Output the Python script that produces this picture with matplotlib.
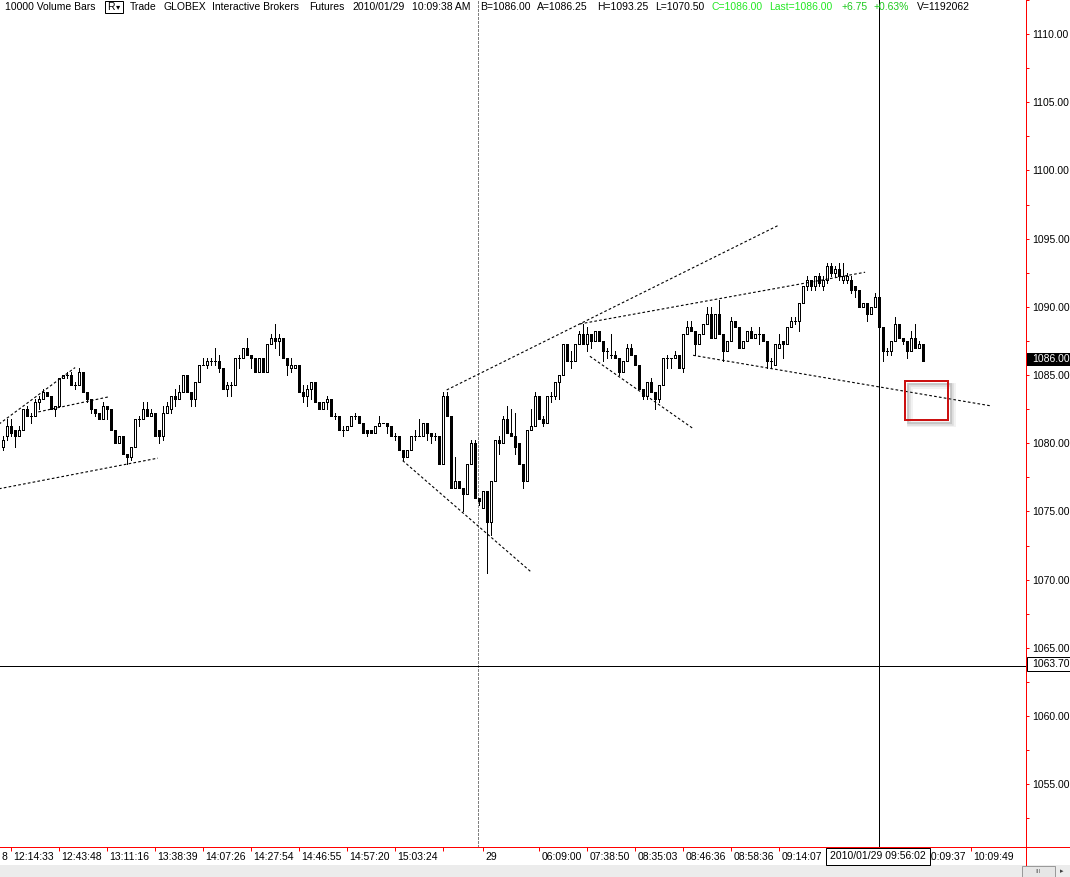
import matplotlib
matplotlib.use("Agg")
import matplotlib.pyplot as plt
import matplotlib.transforms as mtransforms
from matplotlib.patches import Rectangle
from matplotlib.lines import Line2D
import numpy as np

plt.rcParams['font.family'] = ['Liberation Sans', 'DejaVu Sans']

# ---------------- data (ES futures, 10000 volume bars) ----------------
opens = [1079.75, 1080.5, 1081.25, 1081.0, 1080.5, 1081.0, 1082.5, 1082.0, 1082.0, 1083.0,
         1083.25, 1083.75, 1083.5, 1082.5, 1082.75, 1084.75, 1085.0, 1085.0, 1084.25, 1084.25,
         1085.25, 1083.75, 1083.25, 1082.5, 1082.25, 1081.75, 1082.75, 1082.5, 1081.0, 1080.0,
         1080.5, 1079.25, 1079.0, 1079.75, 1081.75, 1081.75, 1082.5, 1082.0, 1082.25, 1081.0,
         1080.5, 1082.25, 1082.5, 1083.5, 1083.25, 1083.75, 1085.0, 1083.75, 1083.25, 1084.5,
         1085.75, 1085.75, 1086.0, 1086.0, 1086.0, 1085.5, 1084.0, 1084.25, 1084.25, 1086.25,
         1086.25, 1087.0, 1086.5, 1086.25, 1085.25, 1086.25, 1085.25, 1087.25, 1087.75, 1087.5,
         1087.75, 1086.25, 1085.5, 1085.5, 1085.75, 1083.75, 1083.5, 1084.0, 1084.5, 1083.0,
         1082.5, 1083.0, 1083.25, 1082.0, 1082.0, 1081.0, 1081.0, 1081.25, 1082.0, 1082.0,
         1081.5, 1081.0, 1081.0, 1080.75, 1081.25, 1081.5, 1081.5, 1081.25, 1080.5, 1080.5,
         1079.5, 1079.0, 1079.5, 1080.5, 1080.5, 1080.5, 1081.5, 1080.75, 1080.5, 1080.5,
         1078.5, 1083.5, 1082.0, 1076.75, 1077.25, 1076.75, 1076.25, 1078.5, 1080.0, 1076.0,
         1075.25, 1076.5, 1074.25, 1077.25, 1080.25, 1080.0, 1081.75, 1080.75, 1080.5, 1080.0,
         1078.5, 1077.25, 1081.0, 1081.25, 1083.5, 1081.75, 1081.5, 1083.5, 1083.5, 1084.5,
         1085.0, 1087.25, 1086.0, 1086.0, 1087.25, 1088.0, 1087.25, 1088.0, 1087.5, 1088.25,
         1087.5, 1086.75, 1086.5, 1086.5, 1086.25, 1085.25, 1086.0, 1087.0, 1086.5, 1085.75,
         1084.0, 1083.5, 1084.5, 1083.75, 1083.25, 1084.25, 1086.25, 1086.25, 1086.25, 1086.5,
         1085.5, 1088.0, 1088.5, 1088.25, 1087.25, 1088.0, 1088.75, 1089.5, 1087.75, 1089.5,
         1088.0, 1086.75, 1087.5, 1089.0, 1088.5, 1087.0, 1087.5, 1088.25, 1087.75, 1088.0,
         1088.0, 1087.5, 1086.0, 1085.75, 1087.0, 1087.5, 1087.25, 1088.5, 1089.0, 1089.0,
         1090.25, 1091.5, 1092.0, 1091.5, 1092.25, 1091.5, 1092.0, 1093.0, 1092.5, 1092.75,
         1092.0, 1092.0, 1092.0, 1091.5, 1091.25, 1090.0, 1090.25, 1089.5, 1090.0, 1090.75,
         1088.5, 1086.75, 1086.75, 1087.5, 1088.75, 1087.75, 1087.5, 1086.75, 1087.75, 1087.0,
         1087.25]
highs = [1080.5, 1081.75, 1081.75, 1081.0, 1081.25, 1082.5, 1082.75, 1082.25, 1083.25, 1083.5,
         1084.0, 1083.75, 1083.5, 1082.75, 1084.75, 1085.0, 1085.25, 1085.25, 1084.5, 1085.5,
         1085.25, 1083.75, 1083.25, 1082.5, 1082.25, 1083.0, 1082.75, 1082.5, 1081.0, 1080.5,
         1080.5, 1079.25, 1079.75, 1081.75, 1082.0, 1083.0, 1083.0, 1082.5, 1082.25, 1081.0,
         1082.75, 1083.0, 1083.5, 1084.0, 1084.25, 1085.0, 1085.0, 1083.75, 1084.5, 1085.75,
         1086.25, 1086.25, 1086.25, 1087.0, 1086.5, 1085.5, 1084.5, 1084.5, 1086.25, 1086.5,
         1087.0, 1087.75, 1086.5, 1086.25, 1086.25, 1086.25, 1087.25, 1088.0, 1088.75, 1088.0,
         1087.75, 1086.25, 1086.25, 1085.75, 1085.75, 1084.25, 1084.25, 1084.5, 1084.5, 1083.0,
         1083.0, 1083.5, 1083.25, 1082.25, 1082.0, 1081.25, 1081.25, 1082.0, 1082.25, 1082.0,
         1081.5, 1081.0, 1081.0, 1081.25, 1082.0, 1081.5, 1081.5, 1081.25, 1080.75, 1080.5,
         1079.5, 1079.5, 1080.5, 1081.0, 1081.75, 1081.5, 1081.5, 1080.75, 1080.75, 1080.5,
         1083.75, 1083.75, 1082.0, 1079.0, 1077.25, 1076.75, 1078.5, 1080.25, 1080.25, 1076.0,
         1076.5, 1076.5, 1077.25, 1080.25, 1080.5, 1082.0, 1082.75, 1082.5, 1082.25, 1080.0,
         1078.5, 1081.0, 1082.5, 1083.75, 1083.5, 1082.0, 1083.5, 1083.75, 1084.5, 1085.0,
         1087.25, 1087.25, 1086.75, 1087.25, 1088.25, 1088.75, 1088.5, 1088.0, 1088.25, 1088.25,
         1087.5, 1087.0, 1088.0, 1086.75, 1086.25, 1086.0, 1087.25, 1087.25, 1086.5, 1085.75,
         1084.0, 1084.5, 1084.75, 1083.75, 1084.25, 1086.25, 1086.5, 1086.25, 1086.75, 1086.5,
         1088.0, 1089.0, 1089.0, 1088.25, 1088.0, 1088.75, 1090.0, 1090.0, 1089.5, 1090.5,
         1088.0, 1087.5, 1089.25, 1089.0, 1088.5, 1087.5, 1088.25, 1088.5, 1088.0, 1088.5,
         1088.0, 1087.5, 1086.25, 1087.25, 1088.0, 1087.5, 1088.5, 1089.25, 1089.25, 1090.25,
         1091.5, 1092.25, 1092.0, 1092.25, 1092.5, 1092.25, 1093.25, 1093.25, 1093.0, 1093.25,
         1093.25, 1092.5, 1092.25, 1091.5, 1091.25, 1090.25, 1090.25, 1090.0, 1091.0, 1091.0,
         1088.5, 1087.0, 1087.5, 1089.25, 1088.75, 1087.75, 1087.5, 1088.25, 1088.75, 1087.5,
         1087.25]
lows = [1079.5, 1080.25, 1080.5, 1079.75, 1080.5, 1081.0, 1082.0, 1081.5, 1082.0, 1082.5,
        1083.25, 1083.5, 1082.5, 1082.0, 1082.75, 1084.75, 1084.75, 1084.25, 1084.0, 1084.25,
        1083.75, 1083.0, 1082.25, 1082.0, 1081.75, 1081.75, 1081.75, 1081.0, 1080.0, 1080.0,
        1079.25, 1078.5, 1078.75, 1079.75, 1081.25, 1081.75, 1082.0, 1082.0, 1080.5, 1080.0,
        1080.25, 1082.25, 1082.25, 1082.75, 1083.25, 1083.75, 1083.75, 1082.75, 1082.75, 1084.5,
        1085.75, 1085.5, 1085.75, 1085.75, 1085.25, 1084.0, 1083.5, 1083.5, 1084.25, 1085.5,
        1086.25, 1086.5, 1085.5, 1085.25, 1085.25, 1085.25, 1085.25, 1087.25, 1087.0, 1086.5,
        1086.25, 1085.0, 1085.25, 1085.5, 1083.75, 1083.0, 1082.75, 1083.25, 1083.0, 1082.5,
        1082.5, 1082.5, 1082.0, 1081.75, 1081.0, 1080.5, 1081.0, 1081.25, 1081.75, 1081.5,
        1080.75, 1080.5, 1080.75, 1080.75, 1081.25, 1081.5, 1080.75, 1080.5, 1080.25, 1079.5,
        1078.75, 1079.0, 1079.5, 1080.25, 1080.5, 1080.5, 1080.25, 1080.0, 1080.25, 1078.5,
        1078.5, 1082.0, 1076.75, 1076.75, 1076.75, 1075.0, 1076.25, 1078.5, 1076.0, 1075.5,
        1075.25, 1070.5, 1073.25, 1077.25, 1079.25, 1080.0, 1080.75, 1080.5, 1079.25, 1078.5,
        1076.75, 1077.25, 1081.0, 1081.25, 1081.75, 1081.25, 1081.5, 1083.0, 1083.25, 1083.25,
        1085.0, 1086.0, 1085.5, 1086.0, 1087.25, 1087.25, 1086.75, 1087.0, 1087.5, 1087.5,
        1086.0, 1086.25, 1086.25, 1086.25, 1085.0, 1085.25, 1086.0, 1086.5, 1085.75, 1084.0,
        1083.25, 1083.25, 1083.75, 1082.5, 1083.0, 1084.25, 1085.5, 1085.5, 1086.25, 1085.5,
        1085.25, 1088.0, 1088.25, 1086.5, 1087.25, 1088.0, 1088.75, 1087.75, 1087.75, 1088.0,
        1086.0, 1086.75, 1087.5, 1088.5, 1087.0, 1087.0, 1087.5, 1087.75, 1087.75, 1087.25,
        1087.5, 1085.5, 1085.5, 1085.75, 1087.0, 1086.25, 1087.25, 1088.5, 1088.75, 1088.25,
        1090.25, 1091.25, 1091.25, 1091.25, 1091.5, 1091.25, 1091.75, 1092.25, 1092.25, 1092.0,
        1091.75, 1091.75, 1091.0, 1090.75, 1090.0, 1090.0, 1089.0, 1089.5, 1090.0, 1088.5,
        1086.0, 1086.5, 1086.5, 1087.5, 1087.75, 1087.25, 1086.25, 1086.75, 1087.0, 1087.0,
        1086.0]
closes = [1080.25, 1081.25, 1080.75, 1080.5, 1081.0, 1082.5, 1082.0, 1082.0, 1083.0, 1083.25,
          1083.75, 1083.5, 1082.5, 1082.75, 1084.75, 1085.0, 1085.0, 1084.25, 1084.25, 1085.25,
          1083.75, 1083.25, 1082.5, 1082.25, 1081.75, 1082.75, 1082.5, 1081.0, 1080.0, 1080.5,
          1079.25, 1079.0, 1079.75, 1081.75, 1081.75, 1082.5, 1082.0, 1082.25, 1080.5, 1080.5,
          1082.25, 1082.75, 1083.5, 1083.25, 1083.75, 1085.0, 1083.75, 1083.25, 1084.5, 1085.75,
          1085.75, 1086.0, 1086.0, 1086.0, 1085.5, 1084.0, 1084.25, 1084.25, 1086.25, 1086.25,
          1087.0, 1086.5, 1086.25, 1085.25, 1086.25, 1085.25, 1087.25, 1087.75, 1087.5, 1087.75,
          1086.25, 1085.75, 1085.75, 1085.75, 1083.75, 1083.5, 1084.0, 1084.5, 1083.0, 1082.5,
          1083.0, 1083.25, 1082.0, 1082.0, 1081.0, 1081.0, 1081.25, 1082.0, 1082.0, 1081.5,
          1080.75, 1080.75, 1080.75, 1081.25, 1081.5, 1081.5, 1081.25, 1080.5, 1080.5, 1079.5,
          1079.0, 1079.5, 1080.5, 1080.5, 1080.5, 1081.5, 1080.75, 1080.5, 1080.5, 1078.5,
          1083.5, 1082.0, 1076.75, 1077.25, 1076.75, 1076.25, 1078.5, 1080.0, 1076.0, 1075.75,
          1076.5, 1074.25, 1077.25, 1080.25, 1080.0, 1081.75, 1080.75, 1080.5, 1079.75, 1078.5,
          1077.25, 1081.0, 1081.25, 1083.5, 1081.75, 1081.5, 1083.5, 1083.5, 1084.5, 1085.0,
          1087.25, 1086.0, 1086.0, 1087.25, 1088.0, 1087.25, 1088.0, 1087.5, 1088.25, 1087.5,
          1086.75, 1086.75, 1086.5, 1086.25, 1085.25, 1086.0, 1087.0, 1086.5, 1085.75, 1084.0,
          1083.5, 1084.5, 1083.75, 1083.25, 1084.25, 1086.25, 1086.25, 1086.25, 1086.5, 1085.5,
          1088.0, 1088.5, 1088.25, 1087.25, 1088.0, 1088.75, 1089.5, 1087.75, 1089.5, 1088.0,
          1086.75, 1087.5, 1089.0, 1088.5, 1087.0, 1087.5, 1088.25, 1087.75, 1088.0, 1088.0,
          1087.5, 1086.0, 1086.0, 1087.25, 1087.25, 1087.25, 1088.5, 1089.0, 1089.0, 1090.25,
          1091.5, 1092.0, 1091.5, 1092.25, 1091.75, 1092.0, 1093.0, 1092.5, 1092.75, 1092.25,
          1092.25, 1092.25, 1091.25, 1091.25, 1090.0, 1090.25, 1089.5, 1090.0, 1090.75, 1088.5,
          1086.75, 1086.75, 1087.5, 1088.75, 1087.75, 1087.5, 1086.75, 1087.75, 1087.0, 1087.25,
          1086.0]

# bottom time axis: bar index of each tick and its label
tick_bars = [2, 14, 26, 38, 50, 62, 74, 86, 98, 110, 120, 134, 146, 158, 170, 182, 194, 206, 218, 230, 242]
tick_labels = ["12:14:33", "12:43:48", "13:11:16", "13:38:39", "14:07:26", "14:27:54", "14:46:55",
               "14:57:20", "15:03:24", "", "29", "06:09:00", "07:38:50", "08:35:03", "08:46:36",
               "08:58:36", "09:14:07", "", "", "10:09:37", "10:09:49"]
cut_label = "8"
price_ticks = [1055, 1060, 1065, 1070, 1075, 1080, 1085, 1090, 1095, 1100, 1105, 1110]

# drawn trend lines: (bar0, price0, bar1, price1)
trend_lines = [
    (-1.0, 1076.66, 38.8, 1078.91),
    (-1.0, 1081.39, 18.1, 1085.55),
    (8.9, 1082.30, 26.4, 1083.40),
    (100.0, 1078.73, 132.0, 1070.59),
    (111.0, 1083.91, 193.8, 1095.96),
    (144.3, 1088.75, 215.6, 1092.54),
    (146.8, 1086.38, 172.6, 1081.08),
    (172.6, 1086.45, 247.3, 1082.73),
]
day_sep_bar = 118.9
cross_bar = 218.95
cross_price = 1063.70
last_price = 1086.00
cross_time = "2010/01/29 09:56:02"
box_bars = (225.6, 236.3)
box_prices = (1081.74, 1084.58)

header = [
    ("10000 Volume Bars", 5, "black"), ("Trade", 130, "black"), ("GLOBEX", 164, "black"),
    ("Interactive Brokers", 212, "black"), ("Futures", 309, "black"), ("2010/01/29", 352, "black"),
    ("10:09:38 AM", 412, "black"), ("B=1086.00", 480, "black"), ("A=1086.25", 537, "black"),
    ("H=1093.25", 597, "black"), ("L=1070.50", 655, "black"), ("C=1086.00", 712, "#22e822"),
    ("Last=1086.00", 769, "#22e822"), ("+6.75", 842, "#1ec81e"), ("+0.63%", 874, "#1ec81e"),
    ("V=1192062", 917, "black"),
]

# ---------------- figure ----------------
W, H = 1070, 877
fig = plt.figure(figsize=(W / 100, H / 100), dpi=100)
fig.patch.set_facecolor("white")

def fx(px):
    return px / W

def fy(py):
    return 1 - py / H

PX = 0.72  # one pixel in points
FS = 7.5
ax = fig.add_axes([0, fy(847), 1026 / W, 847 / H])
ax.set_facecolor("white")
ax.set_xlim(-0.675, 255.825)
ax.set_ylim(1050.40, 1112.136)

n = len(opens)
xs = np.arange(n)
o = np.array(opens); c = np.array(closes); h = np.array(highs); l = np.array(lows)

ax.vlines(xs, l, h, color="black", lw=PX, zorder=3, antialiased=False)
up = c >= o
bottoms = np.minimum(o, c)
heights = np.abs(c - o)
face = np.where(up, "white", "black")
ax.bar(xs, heights, bottom=bottoms, width=0.55, color=list(face), edgecolor="black",
       linewidth=PX, zorder=4, antialiased=False)

for (x0, y0, x1, y1) in trend_lines:
    ax.add_line(Line2D([x0, x1], [y0, y1], color="black", lw=0.8, dashes=(2.4, 2.0), zorder=5))

ax.axvline(day_sep_bar, color="#808080", lw=PX, dashes=(2.2, 1.5), zorder=2, antialiased=False)
ax.axvline(cross_bar, color="black", lw=PX, zorder=6, antialiased=False)
ax.axhline(cross_price, color="black", lw=PX, zorder=6, antialiased=False)

# red highlight box with soft shadow
bw = box_bars[1] - box_bars[0]
bh = box_prices[1] - box_prices[0]
for off, lw, a in [(1.2, 6, 0.10), (1.0, 3.5, 0.18), (0.8, 2, 0.25)]:
    ax.add_patch(Rectangle((box_bars[0] + off, box_prices[0] - off * 0.29), bw, bh, fill=False,
                           edgecolor="#808080", lw=lw * PX, alpha=a, zorder=6))
ax.add_patch(Rectangle((box_bars[0], box_prices[0]), bw, bh, fill=False, edgecolor="#cc1111",
                       lw=2 * PX, zorder=7))

# axes styling
for s in ["top", "left"]:
    ax.spines[s].set_visible(False)
ax.spines["right"].set_color("red")
ax.spines["bottom"].set_color("red")
ax.spines["right"].set_linewidth(PX)
ax.spines["bottom"].set_linewidth(PX)

ax.yaxis.tick_right()
ax.set_yticks(price_ticks)
ax.set_yticklabels([f"{v:.2f}" for v in price_ticks])
ax.set_yticks([v + 2.5 for v in price_ticks] + [price_ticks[0] - 2.5], minor=True)
ax.tick_params(axis="y", which="both", color="red", length=3 * PX, width=PX,
               labelcolor="black", labelsize=FS, pad=3.5 * PX)

ax.set_xticks(tick_bars)
ax.set_xticklabels([])
ax.tick_params(axis="x", color="red", length=4 * PX, width=PX)

trans = mtransforms.blended_transform_factory(ax.transData, ax.transAxes)
ylab = -9.5 / 847
for b, t in zip(tick_bars, tick_labels):
    if t:
        ax.text(b + 0.65, ylab, t, transform=trans, ha="left", va="center", fontsize=FS,
                color="black", clip_on=False)
fig.text(fx(2), fy(856.5), cut_label, ha="left", va="center", fontsize=FS, color="black")

# crosshair time box
fig.patches.append(Rectangle((fx(826), fy(865)), fx(104), 17 / H, transform=fig.transFigure,
                             facecolor="white", edgecolor="black", lw=PX, zorder=9))
fig.text(fx(878), fy(856), cross_time, ha="center", va="center", fontsize=FS, color="black",
         zorder=10)

# price boxes on the right axis
fig.patches.append(Rectangle((fx(1027), fy(366)), fx(43), 13.5 / H, transform=fig.transFigure,
                             facecolor="black", edgecolor="none", zorder=9))
fig.text(fx(1032), fy(359.3), f"{last_price:.2f}", ha="left", va="center", fontsize=FS,
         color="white", zorder=10)
fig.patches.append(Rectangle((fx(1026.5), fy(670.5)), fx(43), 13.5 / H, transform=fig.transFigure,
                             facecolor="white", edgecolor="black", lw=PX, zorder=9))
fig.text(fx(1032), fy(663.8), f"{cross_price:.2f}", ha="left", va="center", fontsize=FS,
         color="black", zorder=10)

# extended axis lines
fig.lines.append(Line2D([fx(1026), fx(1070)], [fy(847), fy(847)], transform=fig.transFigure,
                        color="red", lw=PX))
fig.lines.append(Line2D([fx(1026), fx(1026)], [fy(847), fy(865)], transform=fig.transFigure,
                        color="red", lw=PX))

# bottom scrollbar strip
fig.patches.append(Rectangle((0, 0), 1, 12 / H, transform=fig.transFigure,
                             facecolor="#ececec", edgecolor="none", zorder=1))
fig.patches.append(Rectangle((fx(1022), fy(877)), fx(33), 11 / H, transform=fig.transFigure,
                             facecolor="#e6e6e6", edgecolor="#9a9a9a", lw=PX, zorder=2))
fig.text(fx(1038.5), fy(871.5), "III", ha="center", va="center", fontsize=4.5, color="#606060")
fig.text(fx(1062), fy(871.5), "\u25b8", ha="center", va="center", fontsize=5, color="#404040")

# header line
for txt, x, col in header:
    fig.text(fx(x), fy(6.8), txt, ha="left", va="center", fontsize=FS, color=col, zorder=10)
fig.patches.append(Rectangle((fx(105), fy(13)), fx(18), 12.3 / H, transform=fig.transFigure,
                             facecolor="white", edgecolor="black", lw=PX, zorder=9))
fig.text(fx(107.5), fy(6.8), "R", ha="left", va="center", fontsize=FS, color="black", zorder=10)
fig.text(fx(115.5), fy(7.5), "\u25be", ha="left", va="center", fontsize=6, color="black", zorder=10)

fig.savefig("out.png", dpi=100, facecolor="white")
